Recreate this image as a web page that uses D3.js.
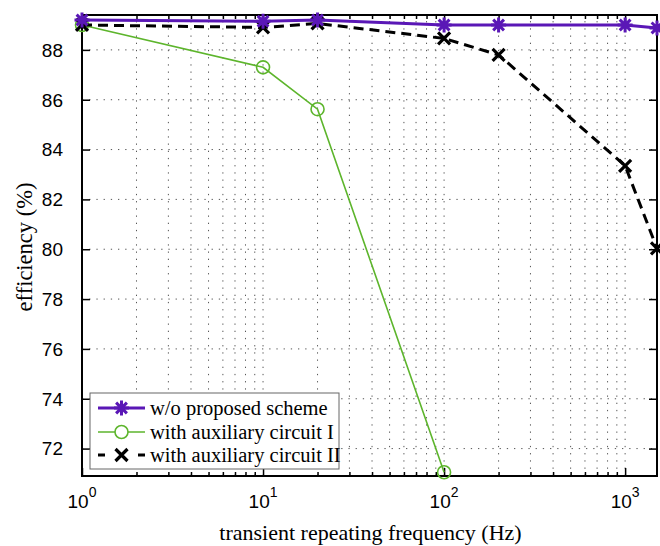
<!DOCTYPE html>
<html>
<head>
<meta charset="utf-8">
<script src="https://cdn.jsdelivr.net/npm/d3@7/dist/d3.min.js"></script>
<style>
  html, body { margin: 0; padding: 0; background: #fff; }
  svg { display: block; }
</style>
</head>
<body>
<svg id="chart" width="660" height="546"></svg>
<script>
// Efficiency versus transient repeating frequency
const freqs      = [1, 10, 20, 100, 200, 1000, 1500];
const freqsAux1  = [1, 10, 20, 100];
const effNone    = [89.2, 89.15, 89.2, 89.0, 89.0, 89.0, 88.88];
const effAux1    = [89.0, 87.3, 85.62, 71.05];
const effAux2    = [89.0, 88.9, 89.06, 88.46, 87.8, 83.35, 80.03];
const yTicks     = [72, 74, 76, 78, 80, 82, 84, 86, 88];
const xMajor     = [1, 10, 100, 1000];
const xExponents = ["0", "1", "2", "3"];
const legendLabels = ["w/o proposed scheme", "with auxiliary circuit I", "with auxiliary circuit II"];

const svg = d3.select("#chart");
const L = 82, R = 657, T = 15, B = 476;

const x = d3.scaleLog().domain([1, 1500]).range([L, R]);
const y = d3.scaleLinear().domain([70.9, 89.4]).range([B, T]);

// minor log ticks 2..9 in each decade inside the domain
const xMinor = [];
for (let d = 1; d <= 1000; d *= 10) {
  for (let m = 2; m <= 9; m++) {
    const v = m * d;
    if (v <= 1500) xMinor.push(v);
  }
}
const xGrid = xMajor.concat(xMinor);

const tickFont = "'Liberation Sans', Arial, Helvetica, sans-serif";
const serif = "'Liberation Serif', 'Times New Roman', Times, serif";

// dotted grid
const grid = svg.append("g").attr("stroke", "#555").attr("stroke-width", 1)
  .attr("stroke-dasharray", "1.3 5.9");
grid.selectAll("line.gx").data(xGrid.filter(v => v > 1)).enter().append("line")
  .attr("x1", d => x(d)).attr("x2", d => x(d)).attr("y1", B).attr("y2", T);
grid.selectAll("line.gy").data(yTicks).enter().append("line")
  .attr("x1", L).attr("x2", R).attr("y1", d => y(d)).attr("y2", d => y(d));

// axes with inward ticks on all four sides
function styleAxis(g) {
  g.select(".domain").remove();
  g.selectAll("line").attr("stroke", "#000").attr("stroke-width", 1.5);
  g.selectAll("text").remove();
}
svg.append("g").attr("transform", `translate(0,${B})`)
  .call(d3.axisBottom(x).tickValues(xMajor).tickSize(-8)).call(styleAxis);
svg.append("g").attr("transform", `translate(0,${B})`)
  .call(d3.axisBottom(x).tickValues(xMinor).tickSize(-4)).call(styleAxis);
svg.append("g").attr("transform", `translate(0,${T})`)
  .call(d3.axisTop(x).tickValues(xMajor).tickSize(-8)).call(styleAxis);
svg.append("g").attr("transform", `translate(0,${T})`)
  .call(d3.axisTop(x).tickValues(xMinor).tickSize(-4)).call(styleAxis);
svg.append("g").attr("transform", `translate(${L},0)`)
  .call(d3.axisLeft(y).tickValues(yTicks).tickSize(-8)).call(styleAxis);
svg.append("g").attr("transform", `translate(${R},0)`)
  .call(d3.axisRight(y).tickValues(yTicks).tickSize(-8)).call(styleAxis);

svg.append("rect").attr("x", L).attr("y", T).attr("width", R - L).attr("height", B - T)
  .attr("fill", "none").attr("stroke", "#000").attr("stroke-width", 2);

// tick labels
svg.append("g").selectAll("text").data(yTicks).enter().append("text")
  .attr("x", L - 19).attr("y", d => y(d)).attr("dy", "0.36em")
  .attr("text-anchor", "end").attr("font-family", tickFont).attr("font-size", 19)
  .text(d => d);

const xl = svg.append("g").selectAll("text").data(xMajor).enter().append("text")
  .attr("x", d => x(d)).attr("y", 508)
  .attr("text-anchor", "middle").attr("font-family", tickFont).attr("font-size", 19);
xl.append("tspan").text("10");
xl.append("tspan").attr("dy", -11).attr("font-size", 14).text((d, i) => xExponents[i]);

// axis titles
svg.append("text").attr("x", (L + R) / 2 + 1).attr("y", 540)
  .attr("text-anchor", "middle").attr("font-family", serif).attr("font-size", 22)
  .text("transient repeating frequency (Hz)");
svg.append("text").attr("transform", `translate(32,247) rotate(-90)`)
  .attr("text-anchor", "middle").attr("font-family", serif).attr("font-size", 22.5)
  .text("efficiency (%)");

// series styles
const purple = "#5a17b6", green = "#5db52c", black = "#000";
const starPath = s => `M${-s},0L${s},0M0,${-s}L0,${s}M${-s*0.72},${-s*0.72}L${s*0.72},${s*0.72}M${-s*0.72},${s*0.72}L${s*0.72},${-s*0.72}`;
const crossPath = s => `M${-s},${-s}L${s},${s}M${-s},${s}L${s},${-s}`;

const line = d3.line().x(d => x(d[0])).y(d => y(d[1]));

// with auxiliary circuit I
const dAux1 = freqsAux1.map((f, i) => [f, effAux1[i]]);
svg.append("path").datum(dAux1).attr("d", line)
  .attr("fill", "none").attr("stroke", green).attr("stroke-width", 1.6);
svg.append("g").selectAll("circle").data(dAux1).enter().append("circle")
  .attr("cx", d => x(d[0])).attr("cy", d => y(d[1])).attr("r", 6.5)
  .attr("fill", "none").attr("stroke", green).attr("stroke-width", 1.6);

// with auxiliary circuit II
const dAux2 = freqs.map((f, i) => [f, effAux2[i]]);
svg.append("path").datum(dAux2).attr("d", line)
  .attr("fill", "none").attr("stroke", black).attr("stroke-width", 3)
  .attr("stroke-dasharray", "10 6");
svg.append("g").selectAll("path").data(dAux2).enter().append("path")
  .attr("transform", d => `translate(${x(d[0])},${y(d[1])})`)
  .attr("d", crossPath(6)).attr("stroke", black).attr("stroke-width", 3.2).attr("fill", "none");

// without proposed scheme
const dNone = freqs.map((f, i) => [f, effNone[i]]);
svg.append("path").datum(dNone).attr("d", line)
  .attr("fill", "none").attr("stroke", purple).attr("stroke-width", 3);
svg.append("g").selectAll("path").data(dNone).enter().append("path")
  .attr("transform", d => `translate(${x(d[0])},${y(d[1])})`)
  .attr("d", starPath(7.5)).attr("stroke", purple).attr("stroke-width", 3).attr("fill", "none");

// legend
const lg = svg.append("g");
lg.append("rect").attr("x", 90).attr("y", 393).attr("width", 249).attr("height", 76)
  .attr("fill", "#fff").attr("stroke", "#666").attr("stroke-width", 1);
const rows = [408, 432, 455];
const sx1 = 98, sx2 = 145, sc = 121.5;
// row 1
lg.append("line").attr("x1", sx1).attr("x2", sx2).attr("y1", rows[0]).attr("y2", rows[0])
  .attr("stroke", purple).attr("stroke-width", 3);
lg.append("path").attr("transform", `translate(${sc},${rows[0]})`).attr("d", starPath(7.5))
  .attr("stroke", purple).attr("stroke-width", 3).attr("fill", "none");
// row 2
lg.append("line").attr("x1", sx1).attr("x2", sx2).attr("y1", rows[1]).attr("y2", rows[1])
  .attr("stroke", green).attr("stroke-width", 1.6);
lg.append("circle").attr("cx", sc).attr("cy", rows[1]).attr("r", 6.5)
  .attr("fill", "#fff").attr("stroke", green).attr("stroke-width", 1.6);
// row 3: short dash on each side of the marker
lg.append("line").attr("x1", sx1).attr("x2", sx2).attr("y1", rows[2]).attr("y2", rows[2])
  .attr("stroke", black).attr("stroke-width", 3).attr("stroke-dasharray", "7 33 7");
lg.append("path").attr("transform", `translate(${sc},${rows[2]})`).attr("d", crossPath(6))
  .attr("stroke", black).attr("stroke-width", 3.2).attr("fill", "none");
lg.selectAll("text.lt").data(legendLabels).enter().append("text")
  .attr("x", 150).attr("y", (d, i) => rows[i]).attr("dy", "0.33em")
  .attr("font-family", serif).attr("font-size", 20.5).text(d => d);
</script>
</body>
</html>
